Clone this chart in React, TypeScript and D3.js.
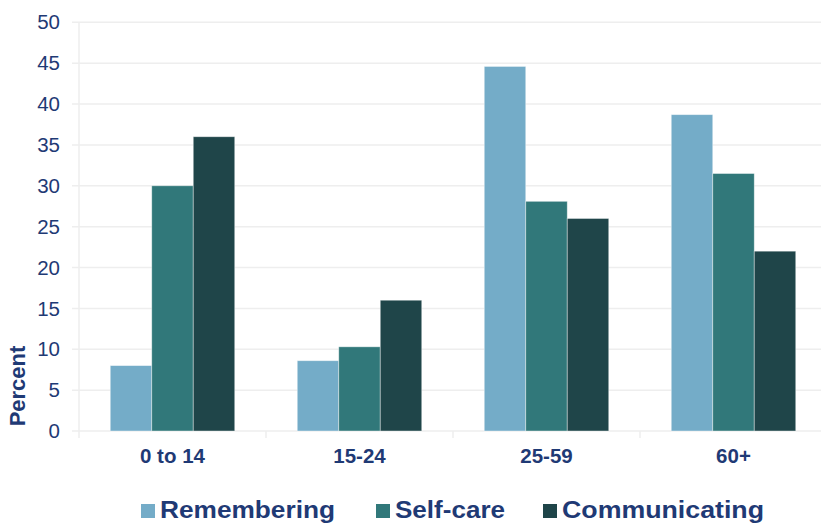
import React, { useRef, useEffect } from "react";
import * as d3 from "d3";

const categories = ["0 to 14", "15-24", "25-59", "60+"];
const seriesNames = ["Remembering", "Self-care", "Communicating"];
const remembering = [8, 8.6, 44.6, 38.7];
const selfCare = [30, 10.3, 28.1, 31.5];
const communicating = [36, 16, 26, 22];
const yTicks = [0, 5, 10, 15, 20, 25, 30, 35, 40, 45, 50];
const colors = ["#74acc8", "#31787a", "#1f4549"];

const W = 821;
const H = 525;

const App = () => {
  const svgRef = useRef<SVGSVGElement | null>(null);

  useEffect(() => {
    if (!svgRef.current) return;
    const svg = d3.select(svgRef.current);
    svg.selectAll("*").remove();

    const left = 79;
    const right = 827; // plot runs slightly past the picture's right edge
    const top = 22.3;
    const bottom = 431;
    const textColor = "#1f3a75";
    const font = "Arial, 'Liberation Sans', sans-serif";

    const values = [remembering, selfCare, communicating];

    const x = d3.scaleBand().domain(categories).range([left, right]).paddingInner(0).paddingOuter(0);
    // bar groups are about two thirds of each category band
    const x1 = d3
      .scaleBand()
      .domain(seriesNames)
      .range([0, x.bandwidth()])
      .paddingOuter(0.753)
      .paddingInner(0);
    const y = d3.scaleLinear().domain([0, 50]).range([bottom, top]);

    // grid lines
    svg
      .append("g")
      .selectAll("line")
      .data(yTicks)
      .enter()
      .append("line")
      .attr("x1", left - 7)
      .attr("x2", right)
      .attr("y1", (d) => y(d))
      .attr("y2", (d) => y(d))
      .attr("stroke", "#eeeeee")
      .attr("stroke-width", 1.5);

    // y axis line
    svg
      .append("line")
      .attr("x1", left)
      .attr("x2", left)
      .attr("y1", top)
      .attr("y2", bottom + 7)
      .attr("stroke", "#eeeeee")
      .attr("stroke-width", 1.5);

    // category ticks
    svg
      .append("g")
      .selectAll("line")
      .data(categories.slice(1))
      .enter()
      .append("line")
      .attr("x1", (d) => x(d)!)
      .attr("x2", (d) => x(d)!)
      .attr("y1", bottom)
      .attr("y2", bottom + 7)
      .attr("stroke", "#eeeeee")
      .attr("stroke-width", 1.5);

    // y tick labels
    svg
      .append("g")
      .selectAll("text")
      .data(yTicks)
      .enter()
      .append("text")
      .attr("x", 60)
      .attr("y", (d) => y(d))
      .attr("dy", "0.35em")
      .attr("text-anchor", "end")
      .attr("fill", textColor)
      .style("font-family", font)
      .style("font-size", "20.5px")
      .text((d) => d);

    // bars
    const groups = svg
      .append("g")
      .selectAll("g")
      .data(categories)
      .enter()
      .append("g")
      .attr("transform", (d) => `translate(${x(d)},0)`);

    groups
      .selectAll("rect")
      .data((c, ci) => seriesNames.map((s, si) => ({ s, si, v: values[si][ci] })))
      .enter()
      .append("rect")
      .attr("x", (d) => x1(d.s)!)
      .attr("width", x1.bandwidth())
      .attr("y", (d) => y(d.v))
      .attr("height", (d) => bottom - y(d.v))
      .attr("fill", (d) => colors[d.si])
      .attr("stroke", "#ffffff")
      .attr("stroke-opacity", 0.5)
      .attr("stroke-width", 0.8);

    // category labels
    svg
      .append("g")
      .selectAll("text")
      .data(categories)
      .enter()
      .append("text")
      .attr("x", (d) => x(d)! + x.bandwidth() / 2)
      .attr("y", 463)
      .attr("text-anchor", "middle")
      .attr("fill", textColor)
      .style("font-family", font)
      .style("font-size", "20.5px")
      .style("font-weight", "bold")
      .text((d) => d);

    // y axis title
    svg
      .append("text")
      .attr("transform", `translate(25,386) rotate(-90)`)
      .attr("text-anchor", "middle")
      .attr("fill", textColor)
      .style("font-family", font)
      .style("font-size", "22px")
      .style("font-weight", "bold")
      .text("Percent");

    // legend
    const legendX = [141, 376, 543];
    const legendLen = [175, 110, 202];
    const legend = svg
      .append("g")
      .selectAll("g")
      .data(seriesNames)
      .enter()
      .append("g")
      .attr("transform", (d, i) => `translate(${legendX[i]},0)`);

    legend
      .append("rect")
      .attr("x", 0)
      .attr("y", 504)
      .attr("width", 14)
      .attr("height", 14)
      .attr("fill", (d, i) => colors[i]);

    legend
      .append("text")
      .attr("x", 19)
      .attr("y", 518)
      .attr("fill", textColor)
      .attr("textLength", (d, i) => legendLen[i])
      .attr("lengthAdjust", "spacingAndGlyphs")
      .style("font-family", font)
      .style("font-size", "24px")
      .style("font-weight", "bold")
      .text((d) => d);
  }, []);

  return (
    <svg
      ref={svgRef}
      width={W}
      height={H}
      style={{ position: "absolute", left: 0, top: 0, background: "#ffffff" }}
    ></svg>
  );
};

export default App;
